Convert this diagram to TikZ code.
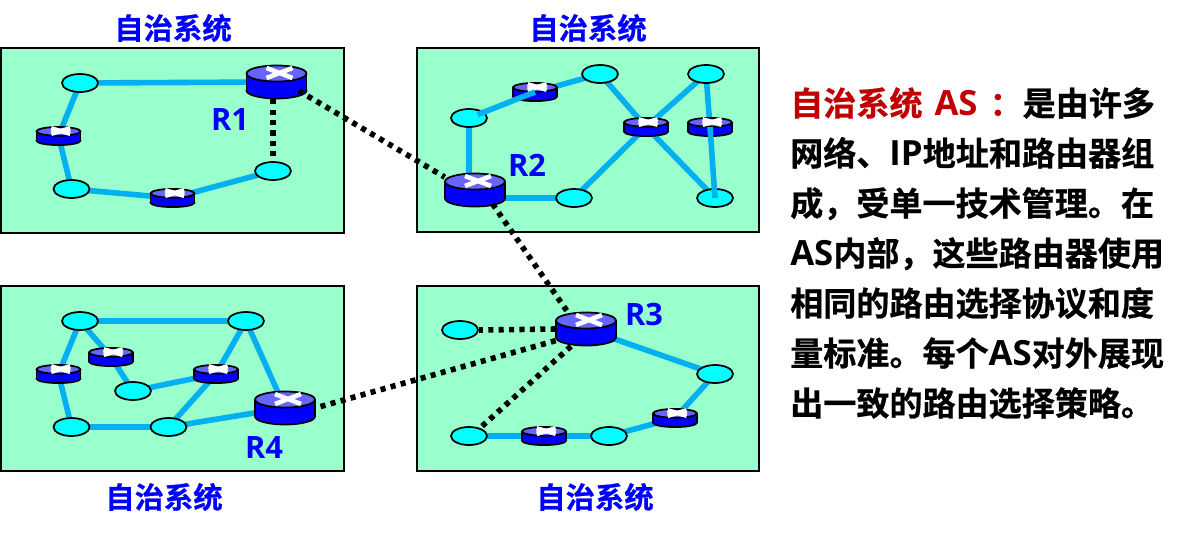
\documentclass[tikz,border=0pt]{standalone}
\usepackage{fontspec}
\usepackage{xcolor}
\usepackage{tikz}
\usetikzlibrary{shapes.geometric,backgrounds}
\newfontfamily\cjk{Noto Sans CJK SC}[BoldFont={Noto Sans CJK SC Bold},BoldFeatures={FakeBold=0.7}]
\newfontfamily\lat{Open Sans}[Scale=1.05]
\newcommand{\as}{{\lat AS}}
\definecolor{boxgreen}{RGB}{153,255,204}
\definecolor{linkblue}{RGB}{0,176,240}
\definecolor{hostcyan}{RGB}{0,255,255}
\definecolor{routertop}{RGB}{102,102,255}
\definecolor{asred}{RGB}{192,0,0}
\tikzset{
	asbox/.style={draw=black,fill=boxgreen,line width=1.5pt},
	link/.style={every edge/.style={draw=linkblue,line width=4.2pt}},
	dots/.style={every edge/.style={draw=black,line width=4.2pt,dash pattern=on 3.8pt off 4pt}},
	host/.style={ellipse,draw=black,fill=hostcyan,line width=1.3pt,inner sep=0pt,minimum width=27pt,minimum height=13.5pt},
	rbig/.style={inner sep=0pt,minimum width=45pt,minimum height=25.5pt},
	rsmall/.style={inner sep=0pt,minimum width=33pt,minimum height=13.5pt},
	astitle/.style={font=\fontsize{22}{26}\selectfont\cjk\bfseries,text=blue,inner sep=0pt},
	rname/.style={font=\fontsize{22}{26}\selectfont\lat\bfseries,text=blue,inner sep=0pt},
}
% name, x, y, xscale, yscale
\newcommand{\router}[6][rbig]{
	\node[#1] (#2) at (#3,#4) {};
	\begin{scope}[shift={(#2.center)},xscale=#5,yscale=#6,line width=1.3pt]
		\draw[fill=blue] (0,8.5) ellipse [x radius=30,y radius=8];
		\fill[blue] (-30,-8.5) rectangle (30,8.5);
		\draw (-30,-8.5) -- (-30,8.5) (30,-8.5) -- (30,8.5);
		\draw[fill=routertop] (0,-8.5) ellipse [x radius=30,y radius=8];
		\draw[white,line width=3.4pt] (-10,-14) -- (16,-4) (-10,-4) -- (16,-14);
	\end{scope}
}
\begin{document}
\begin{tikzpicture}[x=0.75pt,y=-0.75pt]
	\useasboundingbox (0,0) rectangle (1197,533);
	% first system
	\node[host] (a1) at (80,83) {};
	\node[host] (a2) at (71.5,189) {};
	\node[host] (a3) at (273,171) {};
	\router{R1}{276.5}{82}{1}{1}
	\router[rsmall]{a4}{58.5}{136}{0.73}{0.55}
	\router[rsmall]{a5}{172.5}{198}{0.73}{0.55}
	% second system
	\node[host] (b1) at (469,118) {};
	\node[host] (b2) at (600,74) {};
	\node[host] (b3) at (706,74) {};
	\node[host] (b4) at (574,198) {};
	\node[host] (b5) at (715,198) {};
	\router{R2}{475}{190}{1}{1}
	\router[rsmall]{b6}{535}{92}{0.73}{0.55}
	\router[rsmall]{b7}{646}{127}{0.73}{0.55}
	\router[rsmall]{b8}{710}{127}{0.73}{0.55}
	% third system
	\node[host] (c1) at (460,330) {};
	\node[host] (c2) at (715,374) {};
	\node[host] (c3) at (609,436) {};
	\node[host] (c4) at (469,436) {};
	\router{R3}{586}{329}{1}{1}
	\router[rsmall]{c5}{675}{418}{0.73}{0.55}
	\router[rsmall]{c6}{544}{436}{0.73}{0.55}
	% fourth system
	\node[host] (d1) at (80,321) {};
	\node[host] (d2) at (246,321) {};
	\node[host] (d3) at (133,391) {};
	\node[host] (d4) at (71.5,427) {};
	\node[host] (d5) at (168.5,427) {};
	\router{R4}{285}{408}{1}{1}
	\router[rsmall]{d6}{58.5}{374}{0.73}{0.55}
	\router[rsmall]{d7}{111}{357}{0.73}{0.55}
	\router[rsmall]{d8}{216}{374}{0.73}{0.55}
	%
	\begin{scope}[on background layer]
		\draw[asbox] (1,48) rectangle (344,233);
		\draw[asbox] (417,48) rectangle (759,232);
		\draw[asbox] (1,286) rectangle (344,471);
		\draw[asbox] (417,286) rectangle (759,471);
		\path[link]
		(a1.center) edge (R1.center)
		(a1.center) edge (a4.center)
		(a4.center) edge (a2.center)
		(a2.center) edge (a5.center)
		(a5.center) edge (a3.center)
		(b1.center) edge (b1 |- R2.center)
		(b6.center) edge (b2.center)
		(b2.center) edge (b7.center)
		(b7.center) edge (b5.center)
		(b3.center) edge (b7.center)
		(b7.center) edge (b4.center)
		(b3.center) edge (b8.center)
		(b4.center) edge (b4 -| R2.center)
		(R3.center) edge (c2.center)
		(c2.center) edge (c5.center)
		(c5.center) edge (c3.center)
		(c3.center) edge (c6.center)
		(c6.center) edge (c4.center)
		(d1.center) edge (d2.center)
		(d1.center) edge (d6.center)
		(d6.center) edge (d4.center)
		(d1.center) edge (d7.center)
		(d7.center) edge (d3.center)
		(d3.center) edge (d8.center)
		(d2.center) edge (d8.center)
		(d8.center) edge (d5.center)
		(d2.center) edge (R4.center)
		(d4.center) edge (d5.center)
		(d5.center) edge (R4.center);
	\end{scope}
	% these two run over the hosts
	\path[link]
	(b1.center) edge[shorten <=7pt] (b6.center)
	(b8.center) edge (b5.center);
	%
	\path[dots]
	(R1.-24) edge[shorten <=-7pt] (R2.157)
	(R1.south -| a3) edge (a3.north)
	(R2.-41) edge[shorten <=-3pt] (R3.137)
	(R3.201) edge (R4.east)
	(R3.west) edge (c1.east)
	(R3.229) edge (c4.36);
	%
	\node[astitle] (t1) at (173,28) {自治系统};
	\node[astitle] (t2) at (588,28) {自治系统};
	\node[astitle] (t3) at (164,497) {自治系统};
	\node[astitle] (t4) at (595,497) {自治系统};
	\node[rname] (n1) at (230,120) {R1};
	\node[rname] (n2) at (527,165) {R2};
	\node[rname] (n3) at (644,314) {R3};
	\node[rname] (n4) at (264,447) {R4};
	%
	\node[anchor=north west,align=left,inner sep=0pt,font=\fontsize{24.8}{37.5}\selectfont\cjk\bfseries] (txt) at (790,87) {%
		{\color{asred}自治系统\hspace{9pt}{\lat AS}\hspace{9pt}：}是由许多\\
		网络、{\lat IP}地址和路由器组\\
		成，受单一技术管理。在\\
		\as 内部，这些路由器使用\\
		相同的路由选择协议和度\\
		量标准。每个\as 对外展现\\
		出一致的路由选择策略。};
\end{tikzpicture}
\end{document}
